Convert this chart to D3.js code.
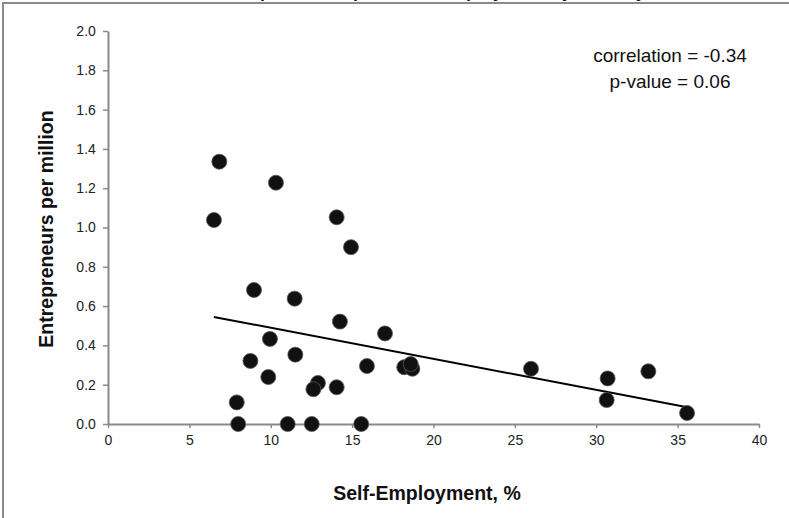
<!DOCTYPE html>
<html><head><meta charset="utf-8">
<script src="https://cdn.jsdelivr.net/npm/d3@7"></script>
<style>body{margin:0;background:#fff;} svg{display:block;}</style>
</head><body>
<svg id="chart" width="789" height="518"></svg>
<script>
const selfEmployment = [6.84,10.32,6.51,14.05,14.93,8.97,11.47,14.25,17.02,9.95,11.51,8.75,15.91,18.2,18.7,18.6,9.85,12.9,12.62,14.05,7.91,8.0,11.04,12.52,15.56,25.99,30.7,30.64,33.2,35.58];
const entrepreneurs = [1.335,1.228,1.038,1.052,0.90,0.682,0.638,0.521,0.461,0.433,0.353,0.321,0.295,0.289,0.281,0.305,0.239,0.209,0.177,0.187,0.11,0,0,0,0,0.281,0.232,0.122,0.268,0.056];
const trendX = [6.5, 35.6];
const trendY = [0.545, 0.085];
const xTicks = [0,5,10,15,20,25,30,35,40];
const yTicks = [0,0.2,0.4,0.6,0.8,1.0,1.2,1.4,1.6,1.8,2.0];
const statsText = ["correlation = -0.34","p-value = 0.06"];

const svg = d3.select("#chart");
const font = "'Liberation Sans', Arial, sans-serif";
// frame
svg.append("rect").attr("x",3).attr("y",3).attr("width",800).attr("height",530)
  .attr("fill","none").attr("stroke","#8a8a8a").attr("stroke-width",2);
// cut-off title
svg.append("text").attr("x",430).attr("y",-3).attr("text-anchor","middle")
  .attr("font-family",font).attr("font-weight","bold").attr("font-size",18).attr("fill","#111")
  .text("Entrepreneurship vs. Self-Employment by Country");

const x = d3.scaleLinear().domain([0,40]).range([108,759]);
const y = d3.scaleLinear().domain([0,2]).range([424,31]);

const xAxis = svg.append("g").attr("transform","translate(0,424)")
  .call(d3.axisBottom(x).tickValues(xTicks).tickFormat(d3.format("d")).tickSize(4).tickSizeOuter(0));
const yAxis = svg.append("g").attr("transform","translate(108,0)")
  .call(d3.axisLeft(y).tickValues(yTicks).tickFormat(d3.format(".1f")).tickSize(5).tickSizeOuter(0));
[xAxis,yAxis].forEach(g=>{
  g.select(".domain").attr("stroke","#8a8a8a").attr("stroke-width",2);
  g.selectAll(".tick line").attr("stroke","#8a8a8a").attr("stroke-width",1.5);
  g.selectAll("text").attr("font-family",font).attr("font-size",14).attr("fill","#222");
});
xAxis.selectAll("text").attr("dy","1.0em");
yAxis.selectAll("text").attr("dx","-0.3em");

// trend line
svg.append("line")
  .attr("x1",x(trendX[0])).attr("y1",y(trendY[0]))
  .attr("x2",x(trendX[1])).attr("y2",y(trendY[1]))
  .attr("stroke","#000").attr("stroke-width",2);

// points
svg.append("g").selectAll("circle").data(selfEmployment.map((v,i)=>[v,entrepreneurs[i]]))
  .join("circle").attr("cx",d=>x(d[0])).attr("cy",d=>y(d[1])).attr("r",7.5)
  .attr("fill","#111").attr("stroke","#555").attr("stroke-width",0.8);

// stats
svg.append("g").selectAll("text").data(statsText).join("text")
  .attr("x",670).attr("y",(d,i)=>62+i*26).attr("text-anchor","middle")
  .attr("font-family",font).attr("font-size",19).attr("fill","#111").text(d=>d);

// axis titles
svg.append("text").attr("x",427).attr("y",500).attr("text-anchor","middle")
  .attr("font-family",font).attr("font-weight","bold").attr("font-size",19.5).attr("fill","#111")
  .text("Self-Employment, %");
svg.append("text").attr("transform","translate(53,229) rotate(-90)").attr("text-anchor","middle")
  .attr("font-family",font).attr("font-weight","bold").attr("font-size",19.5).attr("fill","#111")
  .text("Entrepreneurs per million");
</script>
</body></html>
